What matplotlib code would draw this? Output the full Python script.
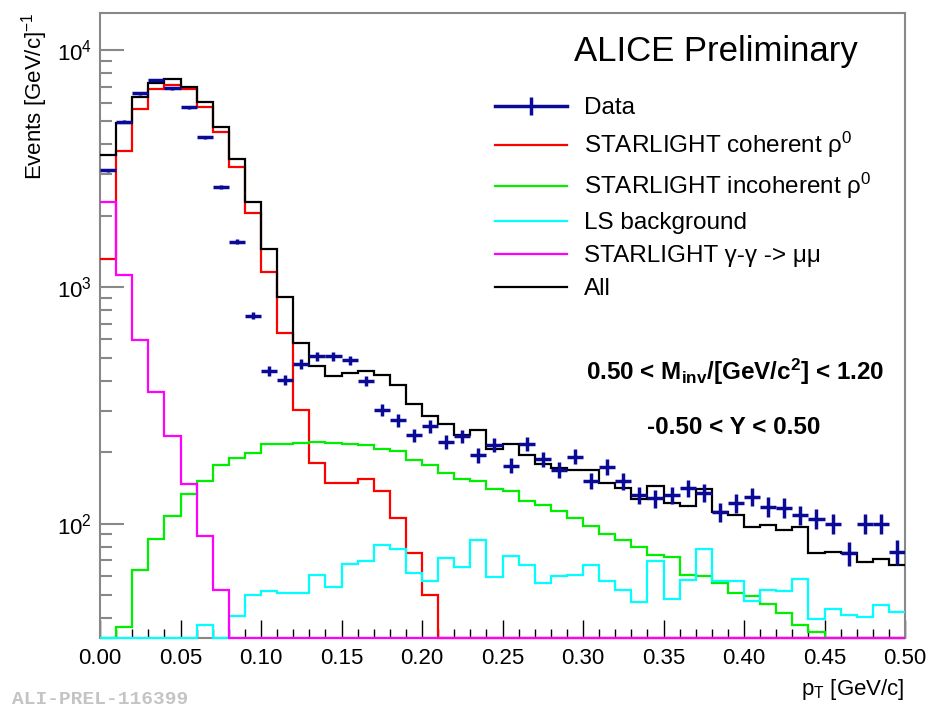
import numpy as np
import matplotlib
matplotlib.use("Agg")
import matplotlib.pyplot as plt
from matplotlib.lines import Line2D
from matplotlib.ticker import MultipleLocator, LogLocator, NullFormatter, FormatStrFormatter

plt.rcParams['font.family'] = ['Liberation Sans', 'DejaVu Sans']
plt.rcParams['mathtext.fontset'] = 'custom'
plt.rcParams['mathtext.rm'] = 'Liberation Sans'
plt.rcParams['mathtext.it'] = 'Liberation Sans:italic'
plt.rcParams['mathtext.bf'] = 'Liberation Sans:bold'

# pT bins, 0.01 GeV/c wide
pt_edges = np.linspace(0.0, 0.5, 51)

data = [3100, 4980, 6560, 7470, 6890, 5730, 4280, 2640, 1550, 755,
        443, 406, 472, 508, 508, 489, 401, 303, 273, 236,
        258, 222, 234, 194, 215, 176, 217, 187, 169, 192,
        152, 174, 151, 132, 128, 132, 141, 135, 112, 122,
        130, 118, 117, 109, 105, 100, 75, 100, 100, 76]
data_err = [56, 71, 81, 86, 83, 76, 65, 51, 39, 27,
            21, 20, 22, 23, 23, 22, 20, 17, 17, 15,
            16, 15, 15, 14, 15, 13, 15, 14, 13, 14,
            12, 13, 12, 11, 11, 11, 12, 12, 10, 11,
            11, 11, 11, 10, 10, 10, 9, 10, 10, 9]

coherent = [1310, 3730, 5630, 6820, 7110, 6820, 5770, 4520, 3220, 2050,
            1160, 638, 303, 181, 149, 149, 155, 137, 106, 75,
            50, 0, 0, 0, 0, 0, 0, 0, 0, 0,
            0, 0, 0, 0, 0, 0, 0, 0, 0, 0,
            0, 0, 0, 0, 0, 0, 0, 0, 0, 0]
incoherent = [0, 36.6, 63.6, 86.5, 108, 133, 151, 177, 190, 199,
              217, 217, 220, 222, 219, 217, 215, 207, 202, 185,
              177, 164, 154, 151, 140, 137, 125, 120, 113, 106,
              98, 90, 85.5, 79.7, 74, 72.3, 60.9, 60.4, 55.9, 51,
              49.4, 46, 42, 37.5, 34.9, 31, 30, 28, 26, 25]
ls_bkg = [0, 0, 0, 0, 0, 0, 37.5, 0, 40.6, 50.1,
          51.8, 51.0, 51.0, 60.7, 54.0, 67.6, 69.4, 81.5, 78.5, 62,
          57.1, 71.6, 65.4, 85.5, 59.6, 72.8, 67.2, 56.2, 60, 60.9,
          66.7, 57.1, 52.7, 46.5, 69.4, 48.3, 58.1, 78.2, 57.1, 57.1,
          47, 52.7, 51.8, 58.5, 39.6, 43.7, 41.3, 40.4, 45.2, 42.4]
gamma_mumu = [2290, 1125, 597, 361, 235, 147, 88.9, 52.7, 0, 0,
              0, 0, 0, 0, 0, 0, 0, 0, 0, 0,
              0, 0, 0, 0, 0, 0, 0, 0, 0, 0,
              0, 0, 0, 0, 0, 0, 0, 0, 0, 0,
              0, 0, 0, 0, 0, 0, 0, 0, 0, 0]
all_sum = [3600, 4910, 6360, 7230, 7520, 7000, 6050, 4750, 3460, 2290,
           1440, 910, 578, 465, 419, 433, 443, 426, 386, 320,
           284, 263, 237, 249, 207, 217, 195, 179, 172, 169,
           168, 149, 141, 127, 144, 122, 119, 140, 112, 109,
           97, 99, 94, 97, 75, 76, 75, 69, 71, 67]

labels = ['Data', r'STARLIGHT coherent ρ$^{0}$', r'STARLIGHT incoherent ρ$^{0}$',
          'LS background', 'STARLIGHT γ-γ -> μμ', 'All']

ymin, ymax = 32.9, 14330
data_color = '#0a0a96'

fig = plt.figure(figsize=(9.35, 7.07), dpi=100)
ax = fig.add_axes([100/935, 1-638/707, 805/935, 625/707])
ax.set_yscale('log')

def hist(vals, color):
    # empty / tiny bins sit on the frame bottom, as in ROOT
    v = np.maximum(np.asarray(vals, float), ymin)
    return ax.stairs(v, pt_edges, baseline=None, color=color, lw=1.6,
                     clip_on=False, zorder=3)

h_coh = hist(coherent, '#ff0000')
h_inc = hist(incoherent, '#00ee00')
h_ls = hist(ls_bkg, '#00ffff')
h_gg = hist(gamma_mumu, '#ff00ff')
h_all = hist(all_sum, 'black')

centers = 0.5 * (pt_edges[:-1] + pt_edges[1:])
ax.errorbar(centers, data, xerr=0.005, yerr=data_err, fmt='none',
            ecolor=data_color, elinewidth=2.5, capsize=0, zorder=4)
h_data = Line2D([], [], color=data_color, lw=2.5, marker='|', markersize=13,
                markeredgewidth=2.5)

ax.set_xlim(0, 0.5)
ax.set_ylim(ymin, ymax)

ax.xaxis.set_major_locator(MultipleLocator(0.05))
ax.xaxis.set_minor_locator(MultipleLocator(0.01))
ax.xaxis.set_major_formatter(FormatStrFormatter('%.2f'))
ax.yaxis.set_major_locator(LogLocator(base=10))
ax.yaxis.set_minor_locator(LogLocator(base=10, subs=np.arange(2, 10)))
ax.yaxis.set_minor_formatter(NullFormatter())

ax.tick_params(axis='x', which='major', direction='in', length=13, width=1.0,
               color='black', labelsize=16, pad=7)
ax.tick_params(axis='x', which='minor', direction='in', length=6.5, width=1.0, color='black')
ax.tick_params(axis='y', which='major', direction='in', length=17, width=1.5,
               color='#888888', labelsize=16, pad=6)
ax.tick_params(axis='y', which='minor', direction='in', length=8.5, width=1.5, color='#888888')
for s in ax.spines.values():
    s.set_color('#888888')
    s.set_linewidth(1.5)

fig.text(35/935, 1-13/707, r'Events [GeV/c]$^{-1}$', rotation=90, ha='center', va='top',
         fontsize=16)
fig.text(905/935, 1-690/707, r'p$_{\mathrm{T}}$ [GeV/c]', ha='right', va='center', fontsize=16)
fig.text(12/935, 1-699/707, 'ALI-PREL-116399', ha='left', va='center', fontsize=14,
         family='Liberation Mono', fontweight='bold', color='#c4c4c4')

fig.text(716/935, 1-52/707, 'ALICE Preliminary', ha='center', va='center', fontsize=25)
fig.text(735/935, 1-372/707, r'0.50 < M$_{\mathbf{inv}}$/[GeV/c$^{\mathbf{2}}$] < 1.20',
         ha='center', va='center', fontsize=17.5, fontweight='bold')
fig.text(734/935, 1-428/707, '-0.50 < Y < 0.50', ha='center', va='center',
         fontsize=17.5, fontweight='bold')

leg = ax.legend([h_data, h_coh, h_inc, h_ls, h_gg, h_all], labels,
                loc='upper left', bbox_to_anchor=(495/935, 1-97/707),
                bbox_transform=fig.transFigure, frameon=False, fontsize=17.5,
                handlelength=2.96, handletextpad=0.7, labelspacing=0.45,
                borderpad=0, borderaxespad=0, numpoints=1)

fig.savefig('out.png', dpi=100)
